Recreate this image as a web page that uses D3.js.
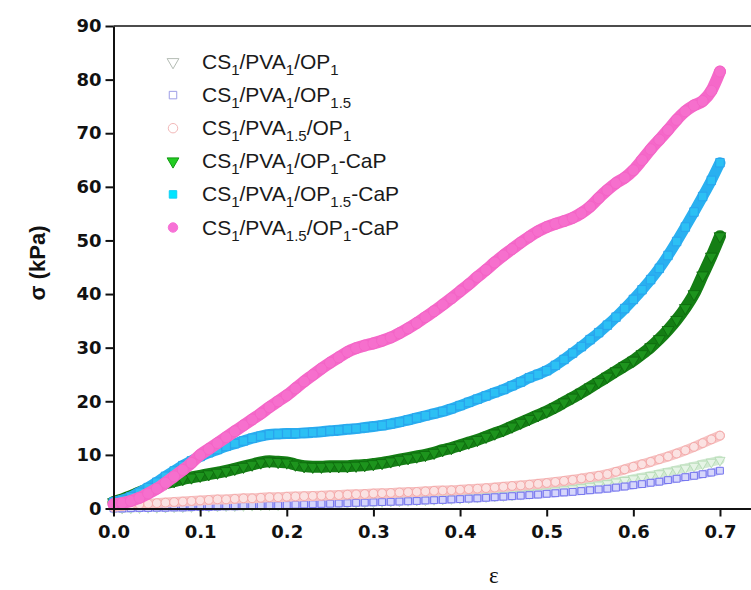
<!DOCTYPE html>
<html>
<head>
<meta charset="utf-8">
<script src="https://cdn.jsdelivr.net/npm/d3@7"></script>
<style>
  html, body { margin: 0; padding: 0; background: #fff; }
  svg { display: block; }
</style>
</head>
<body>
<svg id="chart" width="751" height="590"></svg>
<script>
// Strain sampling grid (ε)
const strain = [0.00,0.01,0.02,0.03,0.04,0.05,0.06,0.07,0.08,0.09,
  0.10,0.11,0.12,0.13,0.14,0.15,0.16,0.17,0.18,0.19,
  0.20,0.21,0.22,0.23,0.24,0.25,0.26,0.27,0.28,0.29,
  0.30,0.31,0.32,0.33,0.34,0.35,0.36,0.37,0.38,0.39,
  0.40,0.41,0.42,0.43,0.44,0.45,0.46,0.47,0.48,0.49,
  0.50,0.51,0.52,0.53,0.54,0.55,0.56,0.57,0.58,0.59,
  0.60,0.61,0.62,0.63,0.64,0.65,0.66,0.67,0.68,0.69,0.70];

// Compressive stress σ (kPa) for each scaffold
const sigmaPVA1OP1 = [0.0,0.05,0.1,0.15,0.2,0.2,0.25,0.3,0.3,0.35,
  0.4,0.4,0.45,0.5,0.5,0.55,0.6,0.65,0.7,0.7,
  0.75,0.8,0.85,0.9,0.95,1.0,1.05,1.1,1.15,1.2,
  1.25,1.3,1.35,1.4,1.5,1.55,1.6,1.7,1.75,1.85,
  1.9,2.0,2.1,2.2,2.3,2.4,2.5,2.65,2.8,2.95,
  3.1,3.3,3.5,3.7,3.9,4.15,4.4,4.65,4.95,5.25,
  5.55,5.85,6.15,6.5,6.85,7.2,7.55,7.9,8.3,8.65,9.0];

const sigmaPVA1OP15 = [0.0,0.0,0.05,0.1,0.1,0.15,0.15,0.2,0.2,0.25,
  0.3,0.3,0.35,0.4,0.4,0.45,0.5,0.55,0.6,0.6,
  0.65,0.7,0.75,0.8,0.85,0.9,0.95,1.0,1.05,1.1,
  1.15,1.2,1.25,1.3,1.35,1.4,1.5,1.55,1.6,1.7,
  1.75,1.85,1.9,2.0,2.1,2.2,2.3,2.4,2.5,2.6,
  2.75,2.85,3.0,3.1,3.25,3.4,3.55,3.7,3.9,4.1,
  4.35,4.55,4.8,5.0,5.3,5.55,5.85,6.1,6.4,6.7,7.05];

const sigmaPVA15OP1 = [0.3,0.5,0.7,0.8,0.9,1.0,1.1,1.2,1.3,1.4,
  1.5,1.6,1.7,1.7,1.8,1.9,1.9,2.0,2.1,2.1,
  2.2,2.25,2.3,2.35,2.4,2.45,2.5,2.6,2.65,2.7,
  2.8,2.85,2.9,3.0,3.05,3.1,3.2,3.3,3.35,3.4,
  3.5,3.6,3.7,3.8,3.9,4.05,4.2,4.3,4.45,4.6,
  4.75,4.95,5.15,5.35,5.6,5.85,6.1,6.4,6.85,7.3,
  7.8,8.25,8.7,9.2,9.7,10.25,10.85,11.5,12.2,12.9,13.6];

const sigmaPVA1OP1CaP = [1.2,1.7,2.3,3.0,3.6,4.2,4.7,5.1,5.5,5.8,
  6.1,6.4,6.7,7.0,7.4,7.8,8.2,8.6,8.8,8.7,
  8.6,8.2,7.9,7.8,7.8,7.9,7.9,7.9,8.0,8.1,
  8.3,8.5,8.8,9.1,9.4,9.7,10.0,10.4,10.9,11.3,
  11.8,12.3,12.8,13.4,14.0,14.6,15.3,16.0,16.7,17.4,
  18.1,18.9,19.8,20.7,21.6,22.6,23.6,24.6,25.6,26.6,
  27.6,28.8,30.1,31.6,33.3,35.2,37.4,40.0,43.5,47.0,50.8];

const sigmaPVA1OP15CaP = [1.2,1.6,2.2,3.0,3.9,4.9,6.0,7.0,8.0,8.9,
  9.7,10.4,11.0,11.6,12.1,12.6,13.1,13.5,13.8,13.9,
  14.0,14.0,14.1,14.2,14.3,14.5,14.6,14.8,14.9,15.1,
  15.3,15.5,15.8,16.1,16.5,16.9,17.3,17.7,18.1,18.6,
  19.2,19.8,20.4,21.0,21.6,22.2,22.9,23.6,24.4,25.0,
  25.7,26.7,27.8,29.0,30.2,31.5,32.8,34.2,35.7,37.3,
  39.0,40.8,42.7,44.8,47.2,49.8,52.5,55.3,58.2,61.2,64.5];

const sigmaPVA15OP1CaP = [0.8,1.0,1.4,2.0,2.8,3.7,4.8,6.0,7.2,8.5,
  10.0,11.1,12.2,13.3,14.4,15.5,16.6,17.7,18.9,20.0,
  21.1,22.4,23.7,24.9,26.1,27.2,28.2,29.2,29.9,30.4,
  30.8,31.3,31.9,32.7,33.6,34.6,35.7,36.8,38.0,39.2,
  40.5,41.8,43.2,44.5,45.9,47.2,48.4,49.6,50.7,51.7,
  52.5,53.1,53.6,54.2,55.1,56.3,57.9,59.4,60.7,61.7,
  63.1,65.0,67.0,68.8,70.6,72.5,74.1,75.2,76.0,77.9,81.5];

// Axis ticks
const xTicks = [0.0,0.1,0.2,0.3,0.4,0.5,0.6,0.7];
const yTicks = [0,10,20,30,40,50,60,70,80,90];

// Legend labels; "_{...}" marks a subscript
const seriesLabels = [
  "CS_{1}/PVA_{1}/OP_{1}",
  "CS_{1}/PVA_{1}/OP_{1.5}",
  "CS_{1}/PVA_{1.5}/OP_{1}",
  "CS_{1}/PVA_{1}/OP_{1}-CaP",
  "CS_{1}/PVA_{1}/OP_{1.5}-CaP",
  "CS_{1}/PVA_{1.5}/OP_{1}-CaP"
];
const seriesValues = [sigmaPVA1OP1, sigmaPVA1OP15, sigmaPVA15OP1,
                      sigmaPVA1OP1CaP, sigmaPVA1OP15CaP, sigmaPVA15OP1CaP];

// Drawing styles per series (band = dense ribbon under the markers)
const styles = [
  { shape: "triDown", band: "#d3ead3", bandW: 9, fill: "#e6f4e6", stroke: "#b0d8b0", size: 44,
    legFill: "#fff", legStroke: "#b4bcb4" },
  { shape: "square", band: "#b4b4f5", bandW: 8, fill: "#d6d6fb", stroke: "#6262ec", size: 46,
    legFill: "#fff", legStroke: "#9d9de6" },
  { shape: "circle", band: "#f6c2c2", bandW: 10, fill: "#fbe2e2", stroke: "#f2a0a0", size: 60,
    legFill: "#fff", legStroke: "#f2b8b8" },
  { shape: "triDown", band: "#147e14", bandW: 12, fill: "#1d941d", stroke: "#0d680d", size: 60,
    legFill: "#22cc22", legStroke: "#119911" },
  { shape: "square", band: "#29b0f0", bandW: 11, fill: "#2cc0f4", stroke: "#2a9fec", size: 72,
    legFill: "#00e5ff", legStroke: "#10d0f5" },
  { shape: "circle", band: "#f568c9", bandW: 12, fill: "#f66fcd", stroke: "#f263c5", size: 96,
    legFill: "#f771d6", legStroke: "#f771d6" }
];

const W = 751, H = 590;
const svg = d3.select("#chart");
svg.append("rect").attr("width", W).attr("height", H).attr("fill", "#fff");

const x = d3.scaleLinear().domain([0, 0.75]).range([113.5, 763.3]);
const y = d3.scaleLinear().domain([0, 90]).range([508.5, 26]);

function symbolPath(shape, size) {
  const t = shape === "circle" ? d3.symbolCircle : shape === "square" ? d3.symbolSquare : d3.symbolTriangle;
  return d3.symbol(t, size)();
}
function symbolTransform(shape, px, py) {
  return `translate(${px},${py})` + (shape === "triDown" ? " rotate(180)" : "");
}

// Series
const line = d3.line().x(d => x(d.e)).y(d => y(d.s)).curve(d3.curveMonotoneX);
const plot = svg.append("g");
seriesValues.forEach((vals, i) => {
  const st = styles[i];
  const pts = strain.map((e, k) => ({ e, s: vals[k] }));
  const g = plot.append("g");
  g.append("path").datum(pts)
    .attr("d", line)
    .attr("fill", "none")
    .attr("stroke", st.band)
    .attr("stroke-width", st.bandW)
    .attr("stroke-linecap", "round")
    .attr("stroke-linejoin", "round");
  const sp = symbolPath(st.shape, st.size);
  g.selectAll("path.m").data(pts).join("path")
    .attr("class", "m")
    .attr("d", sp)
    .attr("transform", d => symbolTransform(st.shape, x(d.e), y(d.s)))
    .attr("fill", st.fill)
    .attr("stroke", st.stroke)
    .attr("stroke-width", 0.8);
});

// Axes
const tickFont = "'DejaVu Sans', sans-serif";
const xAxis = svg.append("g")
  .attr("transform", `translate(0,${y(0)})`)
  .call(d3.axisBottom(x).tickValues(xTicks).tickFormat(d3.format(".1f"))
        .tickSize(8).tickSizeOuter(0).tickPadding(9));
const yAxis = svg.append("g")
  .attr("transform", `translate(${x(0)},0)`)
  .call(d3.axisLeft(y).tickValues(yTicks).tickFormat(d3.format("d"))
        .tickSize(8).tickSizeOuter(0).tickPadding(4));
[xAxis, yAxis].forEach(a => {
  a.select(".domain").attr("stroke", "#111").attr("stroke-width", 2);
  a.selectAll(".tick line").attr("stroke", "#111").attr("stroke-width", 2);
  a.selectAll(".tick text")
    .attr("fill", "#111")
    .style("font-family", tickFont)
    .style("font-weight", "bold")
    .style("font-size", "18px");
});

// Top frame line
svg.append("line")
  .attr("x1", x(0)).attr("x2", W)
  .attr("y1", y(90)).attr("y2", y(90))
  .attr("stroke", "#111").attr("stroke-width", 1.6);

// Axis titles
svg.append("text")
  .attr("transform", `translate(45,263) rotate(-90)`)
  .attr("text-anchor", "middle")
  .style("font-family", "'Liberation Sans', Arial, sans-serif")
  .style("font-weight", "bold")
  .style("font-size", "22px")
  .attr("fill", "#111")
  .text("σ (kPa)");

svg.append("text")
  .attr("x", x(0.439)).attr("y", 583)
  .attr("text-anchor", "middle")
  .style("font-family", "'Liberation Serif', 'Times New Roman', serif")
  .style("font-size", "23px")
  .attr("fill", "#111")
  .text("ε");

// Legend
const legend = svg.append("g");
seriesLabels.forEach((lab, i) => {
  const st = styles[i];
  const cy = 62 + i * 33.1;
  const legSize = st.shape === "circle" ? 70 : st.shape === "square" ? 56 : 60;
  legend.append("path")
    .attr("d", symbolPath(st.shape, legSize))
    .attr("transform", symbolTransform(st.shape, 173, cy))
    .attr("fill", st.legFill)
    .attr("stroke", st.legStroke)
    .attr("stroke-width", 1);
  const t = legend.append("text")
    .attr("x", 202).attr("y", cy + 7)
    .style("font-family", "'Liberation Sans', Arial, sans-serif")
    .style("font-size", "21px")
    .attr("fill", "#1a1a1a");
  const parts = lab.split(/(_\{[^}]*\})/).filter(p => p.length);
  let sub = false;
  parts.forEach(p => {
    if (p.startsWith("_{")) {
      t.append("tspan").attr("dy", 6).style("font-size", "15px").text(p.slice(2, -1));
      sub = true;
    } else {
      t.append("tspan").attr("dy", sub ? -6 : 0).text(p);
      sub = false;
    }
  });
});
</script>
</body>
</html>
